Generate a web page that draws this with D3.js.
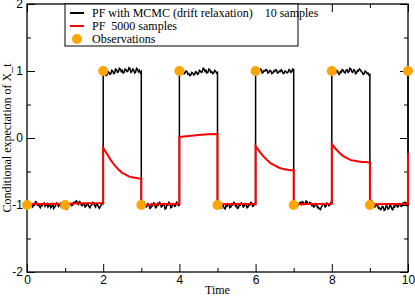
<!DOCTYPE html>
<html>
<head>
<meta charset="utf-8">
<script src="https://cdn.jsdelivr.net/npm/d3@7"></script>
<style>
  body { margin: 0; background: #fff; }
  svg { display: block; font-family: "Liberation Serif", "DejaVu Serif", serif; }
  .axis text { font-size: 12px; fill: #000; }
  .axis path { display: none; }
  .axis line { stroke: #000; }
</style>
</head>
<body>
<div id="chart"></div>
<script>
// segment start times; each segment ends at the next start
const segStarts = [0, 2, 3, 4, 5, 6, 7, 8, 9, 10]

// PF with MCMC (drift relaxation), 10 samples — values spaced evenly inside each segment
const mcmcSegs = [
  [-0.99, -1.03, -1.02, -0.97, -0.98, -1.01, -1.03, -0.99, -1.00, -0.95, -0.96, -1.00, -0.99, -1.02, -1.04, -1.00, -1.01, -0.98, -0.97, -1.02,
   -1.00, -0.98, -1.03, -1.01, -0.99, -1.04, -1.02, -0.99, -1.05, -1.03, -1.01, -0.97, -0.98, -1.02, -1.00, -0.98, -1.03, -1.01, -0.99, -1.02,
   -1.01, -1.04, -1.06, -1.03, -1.02, -0.99, -0.98, -1.01, -1.00, -0.96, -0.97, -0.95, -0.94, -0.97, -0.99, -0.95, -0.96, -1.00, -1.01, -0.99,
   -0.98, -1.03, -1.02, -0.98, -0.99, -1.02, -1.04, -1.01, -1.00, -0.96, -0.97, -1.01, -1.03, -0.98, -0.99, -1.03, -1.05, -1.02, -1.00, -0.97, -0.98],
  [0.95, 0.99, 0.97, 0.93, 0.94, 0.99, 0.98, 0.95, 0.96, 1.01, 1.00, 0.96, 0.97, 1.03, 1.02, 0.98, 0.99, 1.04, 1.03, 0.99,
   1.01, 0.97, 0.98, 1.03, 1.02, 0.99, 1.00, 1.05, 1.04, 0.98, 0.99, 1.03, 1.02, 0.97, 0.98, 1.04, 1.03, 0.99, 1.01, 0.97, 0.99],
  [-1.03, -0.99, -1.00, -0.96, -0.98, -1.03, -1.02, -0.98, -0.99, -1.05, -1.04, -0.99, -1.01, -0.97, -0.98, -1.04, -1.03, -0.98, -1.00, -0.96,
   -0.97, -1.03, -1.02, -0.98, -0.99, -1.06, -1.05, -0.99, -1.00, -0.96, -0.98, -1.04, -1.03, -0.98, -0.99, -1.02, -1.01, -0.96, -0.97, -1.01, -1.00],
  [1.00, 0.97, 0.98, 1.02, 1.01, 0.96, 0.97, 1.00, 0.99, 0.95, 0.96, 0.93, 0.94, 0.98, 0.97, 0.94, 0.95, 0.99, 0.98, 0.95,
   0.96, 1.01, 1.00, 0.98, 0.99, 1.04, 1.03, 0.99, 1.01, 0.97, 0.98, 1.03, 1.02, 0.98, 0.99, 0.96, 0.97, 1.01, 1.00, 0.97, 0.98],
  [-1.02, -0.98, -0.99, -1.03, -1.04, -0.99, -1.00, -1.05, -1.06, -1.01, -1.02, -0.98, -0.99, -1.04, -1.03, -0.99, -1.00, -0.96, -0.97, -1.02,
   -1.01, -1.05, -1.04, -0.99, -1.00, -0.97, -0.98, -1.03, -1.02, -0.98, -0.99, -1.04, -1.03, -0.99, -1.00, -0.96, -0.97, -1.02, -1.01, -0.98, -0.99],
  [0.97, 1.00, 1.01, 0.98, 0.99, 1.03, 1.02, 0.97, 0.98, 1.01, 1.00, 1.02, 1.01, 0.97, 0.98, 1.01, 1.00, 0.96, 0.97, 1.00,
   0.99, 1.02, 1.01, 0.97, 0.98, 1.00, 0.99, 1.02, 1.00, 0.96, 0.97, 1.00, 0.99, 0.97, 0.98, 1.02, 1.01, 0.98, 0.99, 1.03, 1.02],
  [-1.00, -1.01, -0.98, -0.97, -1.01, -1.00, -0.97, -0.96, -0.99, -0.95, -0.96, -0.99, -0.98, -0.94, -0.95, -0.99, -0.99, -0.96, -0.97, -1.01,
   -1.00, -1.03, -1.02, -0.98, -0.99, -1.04, -1.03, -1.06, -1.07, -1.03, -1.01, -0.98, -0.99, -1.03, -1.02, -0.97, -0.98, -1.01, -1.00, -0.96, -0.97],
  [0.96, 1.00, 0.99, 0.96, 0.97, 1.01, 1.00, 0.96, 0.95, 0.99, 0.98, 1.02, 1.01, 0.98, 0.97, 1.01, 1.02, 0.98, 0.99, 1.04,
   1.03, 0.99, 0.98, 1.02, 1.01, 0.96, 0.97, 1.01, 1.00, 1.03, 1.02, 0.99, 0.98, 0.95, 0.96, 1.00, 0.99, 0.96, 0.97, 0.94, 0.95],
  [-0.98, -0.95, -0.94, -0.98, -0.99, -1.03, -1.02, -0.99, -1.00, -1.05, -1.04, -1.07, -1.06, -1.02, -1.03, -1.08, -1.07, -1.01, -1.02, -1.06,
   -1.05, -1.00, -1.01, -1.06, -1.07, -1.02, -1.03, -0.99, -1.00, -1.03, -1.02, -0.98, -0.99, -1.02, -1.01, -0.97, -0.98, -0.96, -0.97, -1.01, -1.00],
  [1.00]
]

// PF 5000 samples
const pfSegs = [
  [-0.98, -0.985, -0.98, -0.975, -0.97],
  [-0.15, -0.24, -0.33, -0.41, -0.47, -0.52, -0.55, -0.58, -0.59, -0.60, -0.61],
  [-1.00, -0.99, -0.98],
  [0.015, 0.03, 0.045, 0.055, 0.06],
  [-0.99, -0.985, -0.98],
  [-0.12, -0.20, -0.27, -0.33, -0.38, -0.41, -0.44, -0.46, -0.47, -0.48, -0.48],
  [-0.99, -0.985, -0.98],
  [-0.09, -0.16, -0.22, -0.27, -0.30, -0.33, -0.34, -0.35, -0.36, -0.36, -0.37],
  [-0.99, -0.985, -0.98],
  [-0.22]
]

const obsTimes = [0, 1, 2, 3, 4, 5, 6, 7, 8, 9, 10]
const obsValues = [-1, -1, 1, -1, 1, -1, 1, -1, 1, -1, 1]

const xMajor = [0, 2, 4, 6, 8, 10]
const xMinor = [1, 3, 5, 7, 9]
const yMajor = [-2, -1, 0, 1, 2]
const yMinor = [-1.5, -0.5, 0.5, 1.5]

const width = 415, height = 296
const plot = {left: 27, right: 408, top: 4, bottom: 272}

function toPoints(segs) {
  const pts = []
  segs.forEach((vals, i) => {
    const t0 = segStarts[i]
    const t1 = i + 1 < segStarts.length ? segStarts[i + 1] : t0
    const n = vals.length
    vals.forEach((v, j) => {
      const t = n > 1 ? t0 + (t1 - t0) * j / (n - 1) : t0
      pts.push([t, v])
    })
  })
  return pts
}

const svg = d3.select("#chart").append("svg")
  .attr("width", width)
  .attr("height", height)

const x = d3.scaleLinear().domain([0, 10]).range([plot.left, plot.right])
const y = d3.scaleLinear().domain([-2, 2]).range([plot.bottom, plot.top])

// axes: ticks point inward on all four sides
const addAxis = (axis, tx, ty) => svg.append("g")
  .attr("class", "axis")
  .attr("transform", `translate(${tx},${ty})`)
  .call(axis)

addAxis(d3.axisBottom(x).tickValues(xMajor).tickSize(-8).tickPadding(3).tickFormat(d3.format("d")), 0, plot.bottom)
addAxis(d3.axisBottom(x).tickValues(xMinor).tickSize(-4).tickFormat(""), 0, plot.bottom)
addAxis(d3.axisTop(x).tickValues(xMajor).tickSize(-8).tickFormat(""), 0, plot.top)
addAxis(d3.axisTop(x).tickValues(xMinor).tickSize(-4).tickFormat(""), 0, plot.top)
addAxis(d3.axisLeft(y).tickValues(yMajor).tickSize(-8).tickPadding(4).tickFormat(d3.format("d")), plot.left, 0)
addAxis(d3.axisLeft(y).tickValues(yMinor).tickSize(-4).tickFormat(""), plot.left, 0)
addAxis(d3.axisRight(y).tickValues(yMajor).tickSize(-8).tickFormat(""), plot.right, 0)
addAxis(d3.axisRight(y).tickValues(yMinor).tickSize(-4).tickFormat(""), plot.right, 0)

svg.selectAll(".axis text").text(function() { return this.textContent.replace("\u2212", "-") })

svg.append("rect")
  .attr("x", plot.left)
  .attr("y", plot.top)
  .attr("width", plot.right - plot.left)
  .attr("height", plot.bottom - plot.top)
  .attr("fill", "none")
  .attr("stroke", "#000")
  .attr("stroke-width", 1.3)

const line = d3.line().x(d => x(d[0])).y(d => y(d[1]))

svg.append("path")
  .attr("d", line(toPoints(mcmcSegs)))
  .attr("fill", "none")
  .attr("stroke", "#000")
  .attr("stroke-width", 1.5)

svg.append("path")
  .attr("d", line(toPoints(pfSegs)))
  .attr("fill", "none")
  .attr("stroke", "#ff0000")
  .attr("stroke-width", 2)

svg.selectAll(".obs")
  .data(obsTimes)
  .enter()
  .append("circle")
  .attr("class", "obs")
  .attr("cx", d => x(d))
  .attr("cy", (d, i) => y(obsValues[i]))
  .attr("r", 5)
  .attr("fill", "#ffa500")

// axis titles
svg.append("text")
  .attr("x", (plot.left + plot.right) / 2)
  .attr("y", 294)
  .attr("text-anchor", "middle")
  .style("font-size", "12px")
  .text("Time")

svg.append("text")
  .attr("transform", `translate(11,${(plot.top + plot.bottom) / 2}) rotate(-90)`)
  .attr("text-anchor", "middle")
  .style("font-size", "12px")
  .text("Conditional expectation of X_t")

// legend
const legend = svg.append("g")
legend.append("rect")
  .attr("x", 65)
  .attr("y", plot.top)
  .attr("width", 233)
  .attr("height", 42)
  .attr("fill", "#fff")
  .attr("stroke", "#000")
  .attr("stroke-width", 1)

const legendItems = [
  {label: "PF with MCMC (drift relaxation)    10 samples", type: "line", color: "#000"},
  {label: "PF  5000 samples", type: "line", color: "#ff0000"},
  {label: "Observations", type: "dot", color: "#ffa500"}
]

legendItems.forEach((item, i) => {
  const cy = 13 + i * 13
  if (item.type === "line") {
    legend.append("line")
      .attr("x1", 70).attr("x2", 84)
      .attr("y1", cy).attr("y2", cy)
      .attr("stroke", item.color)
      .attr("stroke-width", 2)
  } else {
    legend.append("circle")
      .attr("cx", 77).attr("cy", cy)
      .attr("r", 5)
      .attr("fill", item.color)
  }
  legend.append("text")
    .attr("x", 92)
    .attr("y", cy + 4)
    .style("font-size", "12px")
    .style("white-space", "pre")
    .text(item.label)
})
</script>
</body>
</html>
